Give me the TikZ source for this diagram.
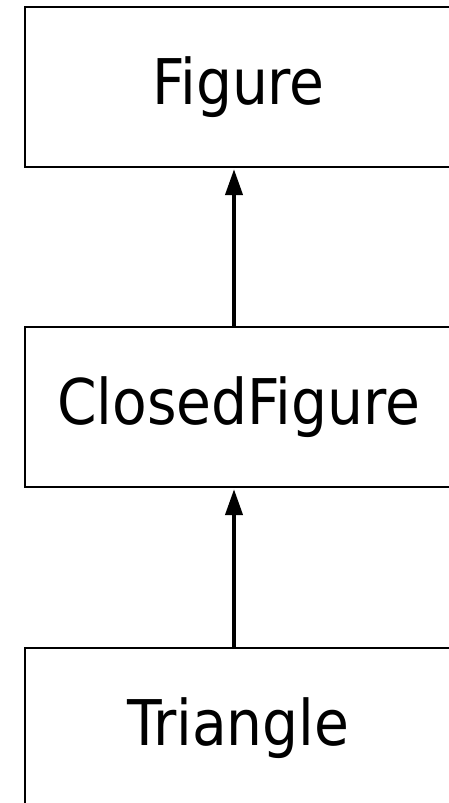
\documentclass[tikz,border=0pt]{standalone}
\usepackage{fontspec}
\setmainfont{DejaVu Sans Condensed}
\usetikzlibrary{arrows.meta}
\begin{document}
\begin{tikzpicture}[x=1pt,y=1pt,
  classbox/.style={draw=black, line width=2.2pt, fill=white, minimum width=427pt, minimum height=160pt, inner sep=0pt, font=\fontsize{63}{70}\selectfont, text=black},
  inherit/.style={line width=4pt, -{Triangle[length=26pt,width=17pt]}, shorten >=1pt}]
\useasboundingbox (0,0) rectangle (449,-803);
\clip (0,0) rectangle (449,-803);
\fill[white] (0,0) rectangle (449,-803);
\node[classbox] (fig) at (238.5,-87) {Figure};
\node[classbox] (cf) at (238.5,-407) {ClosedFigure};
\node[classbox] (tri) at (238.5,-728) {Triangle};
\draw[inherit] ([xshift=-4.5pt]cf.north) -- ([xshift=-4.5pt]fig.south);
\draw[inherit] ([xshift=-4.5pt]tri.north) -- ([xshift=-4.5pt]cf.south);
\end{tikzpicture}
\end{document}
